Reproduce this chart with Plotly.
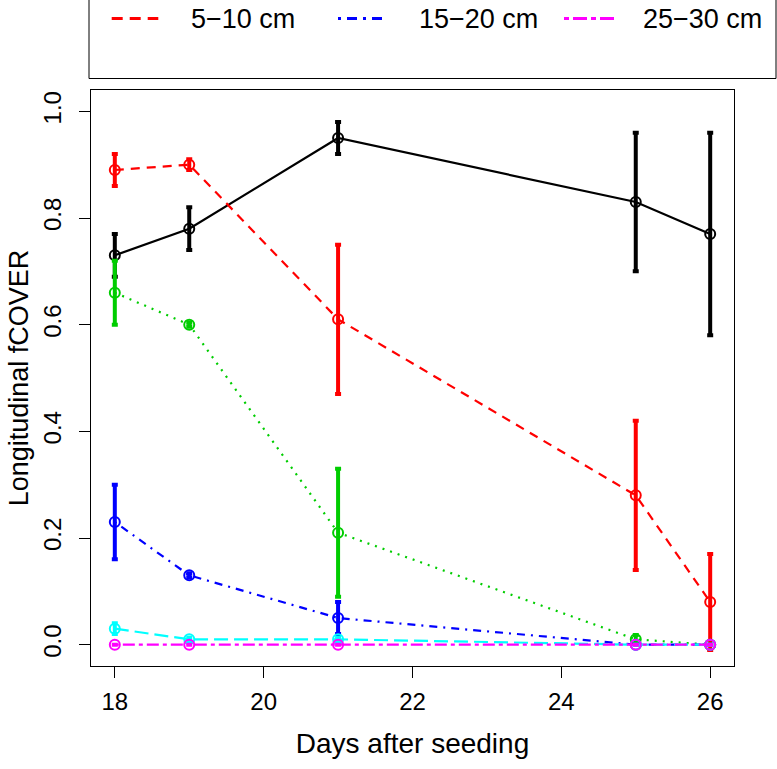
import plotly.graph_objects as go

days = [18, 19, 21, 25, 26]
depth_labels = ["0\u22125 cm", "5\u221210 cm", "10\u221215 cm", "15\u221220 cm", "20\u221225 cm", "25\u221230 cm"]

fc_0_5 = [0.73, 0.78, 0.95, 0.83, 0.77]
sd_0_5 = [0.04, 0.04, 0.03, 0.13, 0.19]
fc_5_10 = [0.89, 0.90, 0.61, 0.28, 0.08]
sd_5_10 = [0.03, 0.01, 0.14, 0.14, 0.09]
fc_10_15 = [0.66, 0.60, 0.21, 0.01, 0.00]
sd_10_15 = [0.06, 0.004, 0.12, 0.008, 0.0]
fc_15_20 = [0.23, 0.13, 0.05, 0.00, 0.00]
sd_15_20 = [0.07, 0.004, 0.03, 0.0, 0.0]
fc_20_25 = [0.03, 0.01, 0.01, 0.00, 0.00]
sd_20_25 = [0.01, 0.003, 0.003, 0.0, 0.0]
fc_25_30 = [0.00, 0.00, 0.00, 0.00, 0.00]
sd_25_30 = [0.0, 0.0, 0.0, 0.0, 0.0]

x_ticks = [18, 20, 22, 24, 26]
y_ticks = [0.0, 0.2, 0.4, 0.6, 0.8, 1.0]

series = [
    (fc_0_5, sd_0_5, "#000000", "solid"),
    (fc_5_10, sd_5_10, "#FF0000", "9px,7px"),
    (fc_10_15, sd_10_15, "#00CD00", "2px,6px"),
    (fc_15_20, sd_15_20, "#0000FF", "2px,6px,8px,6px"),
    (fc_20_25, sd_20_25, "#00FFFF", "14px,6px"),
    (fc_25_30, sd_25_30, "#FF00FF", "4px,4px,12px,4px"),
]

FONT = "Liberation Sans, Arial, sans-serif"
W, H = 777, 769
ML, MT = 91, 90
PW, PH = 643, 576
MR, MB = W - ML - PW, H - MT - PH

fig = go.Figure()
for (vals, sds, col, dash), name in zip(series, depth_labels):
    errs = [s if s > 0 else None for s in sds]
    fig.add_trace(go.Scatter(
        x=days, y=vals, name=name, mode="lines+markers",
        line=dict(color=col, width=2.2, dash=dash),
        marker=dict(symbol="circle-open", size=10, color=col, line=dict(width=2, color=col)),
        error_y=dict(type="data", array=errs, visible=True, color=col, thickness=4, width=3),
        showlegend=False,
    ))

def px2x(px):
    return (px - ML) / PW

def py2y(py):
    return (MT + PH - py) / PH

shapes = [dict(type="rect", xref="paper", yref="paper",
               x0=px2x(89), x1=px2x(776), y0=py2y(78.5), y1=py2y(-20),
               line=dict(color="black", width=1), fillcolor="rgba(0,0,0,0)", layer="above")]
annotations = []
legend_items = [
    (1, 111.7, 158.3, 189, "11px,7px"),
    (3, 338, 384, 417, "3px,6px,10px,6px"),
    (5, 564, 616, 641, "5px,4px,14px,4px"),
]
for idx, lx0, lx1, tx, ldash in legend_items:
    col = series[idx][2]
    shapes.append(dict(type="line", xref="paper", yref="paper",
                       x0=px2x(lx0), x1=px2x(lx1), y0=py2y(18.5), y1=py2y(18.5),
                       line=dict(color=col, width=3, dash=ldash)))
    annotations.append(dict(xref="paper", yref="paper", x=px2x(tx), y=py2y(19),
                            xanchor="left", yanchor="middle", showarrow=False,
                            text=depth_labels[idx], font=dict(family=FONT, size=27, color="black")))

fig.update_layout(
    width=W, height=H,
    margin=dict(l=ML, r=MR, t=MT, b=MB, pad=0, autoexpand=False),
    paper_bgcolor="white", plot_bgcolor="white",
    shapes=shapes, annotations=annotations,
    font=dict(family=FONT, color="black"),
)
fig.update_xaxes(
    range=[17.68, 26.32], tickvals=x_ticks, ticktext=[str(v) for v in x_ticks],
    automargin=False,
    showgrid=False, zeroline=False, showline=True, mirror=True, linecolor="black", linewidth=1,
    ticks="outside", ticklen=11, tickwidth=1, tickcolor="black", ticklabelstandoff=3,
    tickfont=dict(family=FONT, size=24, color="black"),
    title=dict(text="Days after seeding", font=dict(family=FONT, size=28, color="black"), standoff=19),
)
fig.update_yaxes(
    range=[-0.04, 1.04], tickvals=y_ticks, ticktext=["%.1f" % v for v in y_ticks],
    tickangle=-90, automargin=False,
    showgrid=False, zeroline=False, showline=True, mirror=True, linecolor="black", linewidth=1,
    ticks="outside", ticklen=11, tickwidth=1, tickcolor="black", ticklabelstandoff=8,
    tickfont=dict(family=FONT, size=24, color="black"),
    title=dict(text="Longitudinal fCOVER", font=dict(family=FONT, size=27, color="black"), standoff=2),
)

fig.write_html("out.html", config={"displayModeBar": False},
               post_script="document.body.style.margin='0';document.body.style.padding='0';")
